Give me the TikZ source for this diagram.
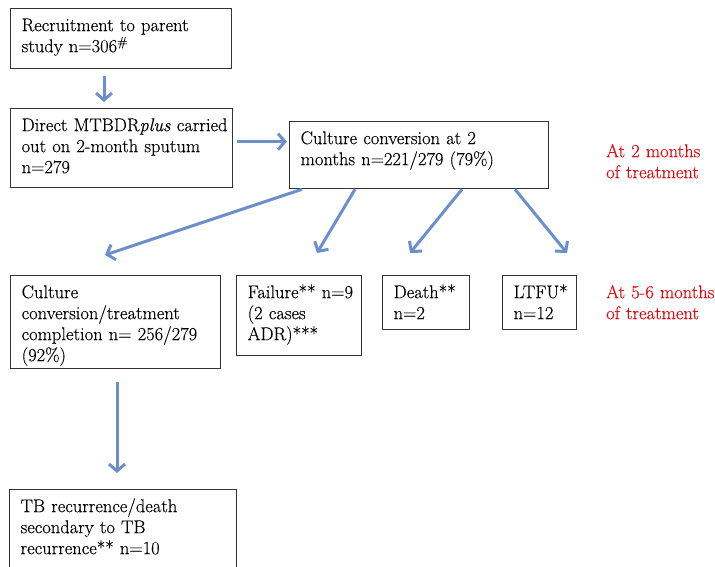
\documentclass[tikz,border=0pt]{standalone}
\usepackage{fontspec}
\setmainfont{Latin Modern Roman}[FakeBold=0.3]
\usepackage{tikz}
\usetikzlibrary{arrows.meta}
\definecolor{flowblue}{RGB}{108,143,203}
\definecolor{notered}{RGB}{226,6,12}

\begin{document}
\begin{tikzpicture}[x=1pt, y=-1pt,
    box/.style={draw=black!80, line width=1.3pt, anchor=north west, align=left, inner xsep=11pt, inner ysep=0pt, text height=22.5pt, font=\fontsize{18.5}{21}\selectfont},
    flow/.style={draw=flowblue, line width=3pt, -{Straight Barb[length=7pt,width=16pt]}},
    note/.style={anchor=north west, align=left, inner sep=0pt, text=notered, text width=110pt, text height=12.5pt, font=\fontsize{18.5}{21}\selectfont}]
      \useasboundingbox (0,0) rectangle (715,567);
      \clip (0,0) rectangle (715,567);

      \node[box, text width=199pt, text depth=37.5pt] (rec) at (10,8) {Recruitment to parent\\study n=306\textsuperscript{\#}};
      \node[box, text width=200pt, text depth=56.5pt] (direct) at (10,108) {\mbox{Direct MTBDR\textit{plus} carried}\\\mbox{out on 2-month sputum}\\n=279};
      \node[box, text width=237pt, text depth=44.5pt] (conv) at (289,121) {Culture conversion at 2\\months n=221/279 (79\%)};
      \node[box, text width=188pt, text depth=70.5pt] (compl) at (10,275) {Culture\\conversion/treatment\\\mbox{completion n= 256/279}\\(92\%)};
      \node[box, text width=103pt, text depth=57.5pt] (fail) at (236,275) {\mbox{Failure** n=9}\\(2 cases\\ADR)***};
      \node[box, text width=65pt, text depth=31.5pt] (death) at (382,275) {Death**\\n=2};
      \node[box, text width=52pt, text depth=31.5pt] (ltfu) at (502,275) {LTFU*\\n=12};
      \node[box, text width=205pt, text depth=67.5pt] (recur) at (9,489) {TB recurrence/death\\secondary to TB\\\mbox{recurrence** n=10}};

      \node[note] (twomonths) at (606,144.5) {At 2 months\\of treatment};
      \node[note] (fivemonths) at (606,285.5) {\mbox{At 5-6 months}\\of treatment};

      \draw[flow] ([xshift=94pt,yshift=-7pt]rec.south west) -- ([xshift=94pt,yshift=6pt]direct.north west);
      \draw[flow] ([xshift=4pt,yshift=6.5pt]direct.east) -- ([xshift=-2pt,yshift=13.5pt]conv.west);
      \draw[flow] ([xshift=13pt]conv.south west) -- ([xshift=95pt,yshift=20pt]compl.north west);
      \draw[flow] ([xshift=66pt]conv.south west) -- ([xshift=81pt,yshift=22pt]fail.north west);
      \draw[flow] ([xshift=173pt]conv.south west) -- ([xshift=28pt,yshift=22pt]death.north west);
      \draw[flow] ([xshift=226pt]conv.south west) -- ([xshift=65pt,yshift=22pt]ltfu.north west);
      \draw[flow] ([xshift=107pt,yshift=-13pt]compl.south west) -- ([xshift=108pt,yshift=16pt]recur.north west);
\end{tikzpicture}
\end{document}
